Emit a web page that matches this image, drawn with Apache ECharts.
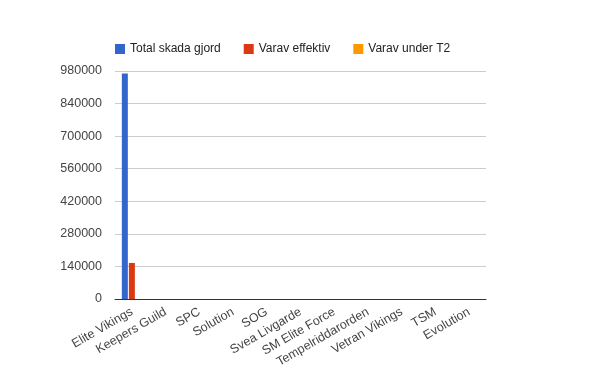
<!DOCTYPE html>
<html>
<head>
<meta charset="utf-8">
<script src="https://cdn.jsdelivr.net/npm/echarts@6/dist/echarts.min.js"></script>
<style>
  html, body { margin: 0; padding: 0; background: #fff; }
  #chart { width: 600px; height: 371px; }
</style>
</head>
<body>
<div id="chart"></div>
<script>
const categories = [
  'Elite Vikings', 'Keepers Guild', 'SPC', 'Solution', 'SOG', 'Svea Livgarde',
  'SM Elite Force', 'Tempelriddarorden', 'Vetran Vikings', 'TSM', 'Evolution'
]
const totalSkada = [969000, 0, 0, 0, 0, 0, 0, 0, 0, 0, 0]
const varavEffektiv = [155000, 0, 0, 0, 0, 0, 0, 0, 0, 0, 0]
const varavUnderT2 = [0, 0, 0, 0, 0, 0, 0, 0, 0, 0, 0]
const seriesNames = ['Total skada gjord', 'Varav effektiv', 'Varav under T2']

const chart = echarts.init(document.getElementById('chart'))

const labelFont = { fontFamily: 'Liberation Sans, Arial, sans-serif', fontSize: 12.5, color: '#444' }

const option = {
  animation: false,
  color: ['#3366cc', '#dc3912', '#ff9900'],
  legend: {
    data: seriesNames,
    left: 110,
    top: 38,
    itemWidth: 10,
    itemHeight: 10,
    itemGap: 23,
    icon: 'rect',
    textStyle: { ...labelFont, fontSize: 12, color: '#222' },
  },
  grid: {
    left: 115,
    right: 114,
    top: 71,
    bottom: 72,
  },
  xAxis: {
    type: 'category',
    data: categories,
    axisLine: { lineStyle: { color: '#333', width: 1 } },
    axisTick: { show: false },
    axisLabel: { ...labelFont, rotate: 30, interval: 0, margin: 12 },
  },
  yAxis: {
    type: 'value',
    min: 0,
    max: 980000,
    interval: 140000,
    axisLine: { show: false },
    axisTick: { show: false },
    splitLine: { lineStyle: { color: '#cccccc' } },
    axisLabel: { ...labelFont, margin: 13, formatter: (v) => String(v) },
  },
  series: [
    { name: seriesNames[0], type: 'bar', data: totalSkada, barWidth: 6, barGap: '17%' },
    { name: seriesNames[1], type: 'bar', data: varavEffektiv, barWidth: 6, barGap: '17%' },
    { name: seriesNames[2], type: 'bar', data: varavUnderT2, barWidth: 6, barGap: '17%' },
  ],
}

chart.setOption(option)
</script>
</body>
</html>
